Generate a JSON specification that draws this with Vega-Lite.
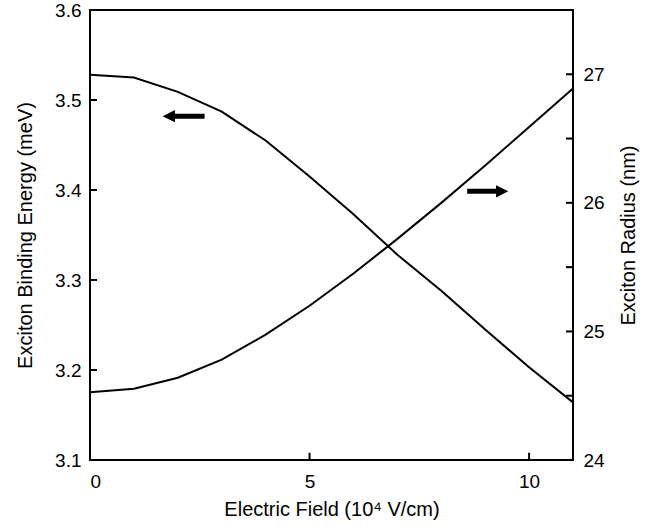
{
  "$schema": "https://vega.github.io/schema/vega-lite/v6.json",
  "width": 483,
  "height": 450,
  "autosize": {"type": "none"},
  "padding": {"left": 90, "top": 10, "right": 90, "bottom": 67},
  "background": "white",
  "config": {
    "font": "Liberation Sans",
    "view": {"stroke": "black", "strokeWidth": 2},
    "axis": {
      "grid": false,
      "ticks": false,
      "domain": false,
      "labelColor": "black",
      "labelFont": "Liberation Sans",
      "labelFontSize": 19,
      "titleFont": "Liberation Sans",
      "titleFontSize": 20,
      "titleFontWeight": "normal",
      "titleColor": "black"
    }
  },
  "datasets": {
    "energy": [
      {"field": 0, "energy": 3.528},
      {"field": 1, "energy": 3.525},
      {"field": 2, "energy": 3.509},
      {"field": 3, "energy": 3.487},
      {"field": 4, "energy": 3.455},
      {"field": 5, "energy": 3.415},
      {"field": 6, "energy": 3.373},
      {"field": 7, "energy": 3.328},
      {"field": 8, "energy": 3.288},
      {"field": 9, "energy": 3.245},
      {"field": 10, "energy": 3.203},
      {"field": 11, "energy": 3.164}
    ],
    "radius": [
      {"field": 0, "radius": 24.526},
      {"field": 1, "radius": 24.555},
      {"field": 2, "radius": 24.64},
      {"field": 3, "radius": 24.78},
      {"field": 4, "radius": 24.975},
      {"field": 5, "radius": 25.2},
      {"field": 6, "radius": 25.45},
      {"field": 7, "radius": 25.72},
      {"field": 8, "radius": 26.0},
      {"field": 9, "radius": 26.29},
      {"field": 10, "radius": 26.59},
      {"field": 11, "radius": 26.89}
    ],
    "leftTicks": [{"v": 3.2}, {"v": 3.3}, {"v": 3.4}, {"v": 3.5}],
    "rightTicks": [{"v": 24.5}, {"v": 25}, {"v": 25.5}, {"v": 26}, {"v": 26.5}, {"v": 27}],
    "bottomTicks": [{"v": 5}, {"v": 10}],
    "leftArrow": [{"x1": 1.8, "x2": 2.61, "head": 1.795, "y": 3.482}],
    "rightArrow": [{"x1": 8.59, "x2": 9.38, "head": 9.386, "y": 26.09}]
  },
  "layer": [
    {
      "layer": [
        {
          "data": {"name": "energy"},
          "mark": {"type": "line", "color": "black", "strokeWidth": 2},
          "encoding": {
            "x": {
              "field": "field", "type": "quantitative",
              "scale": {"domain": [0, 11], "nice": false},
              "axis": {"values": [0, 5, 10], "title": "Electric Field (10⁴ V/cm)", "labelPadding": 12, "titlePadding": 8}
            },
            "y": {
              "field": "energy", "type": "quantitative",
              "scale": {"domain": [3.1, 3.6], "nice": false, "zero": false},
              "axis": {"values": [3.1, 3.2, 3.3, 3.4, 3.5, 3.6], "format": ".1f", "title": "Exciton Binding Energy (meV)", "labelPadding": 9, "titlePadding": 19}
            }
          }
        },
        {
          "data": {"name": "leftTicks"},
          "mark": {"type": "rule", "color": "black", "strokeWidth": 2, "strokeCap": "butt"},
          "encoding": {
            "y": {"field": "v", "type": "quantitative"},
            "x": {"datum": 0, "type": "quantitative"},
            "x2": {"datum": 0.16}
          }
        },
        {
          "data": {"name": "bottomTicks"},
          "mark": {"type": "rule", "color": "black", "strokeWidth": 2, "strokeCap": "butt"},
          "encoding": {
            "x": {"field": "v", "type": "quantitative"},
            "y": {"datum": 3.1, "type": "quantitative"},
            "y2": {"datum": 3.108}
          }
        },
        {
          "data": {"name": "leftArrow"},
          "mark": {"type": "rule", "color": "black", "strokeWidth": 5, "strokeCap": "butt"},
          "encoding": {
            "x": {"field": "x1", "type": "quantitative"},
            "x2": {"field": "x2"},
            "y": {"field": "y", "type": "quantitative"}
          }
        },
        {
          "data": {"name": "leftArrow"},
          "mark": {"type": "point", "shape": "M -1 0 L 1 -1 L 1 1 Z", "filled": true, "color": "black", "opacity": 1, "size": 150},
          "encoding": {
            "x": {"field": "head", "type": "quantitative"},
            "y": {"field": "y", "type": "quantitative"}
          }
        }
      ]
    },
    {
      "layer": [
        {
          "data": {"name": "radius"},
          "mark": {"type": "line", "color": "black", "strokeWidth": 2},
          "encoding": {
            "x": {"field": "field", "type": "quantitative"},
            "y": {
              "field": "radius", "type": "quantitative",
              "scale": {"domain": [24, 27.5], "nice": false, "zero": false},
              "axis": {
                "orient": "right",
                "values": [24, 25, 26, 27],
                "format": "d",
                "title": "Exciton Radius (nm)",
                "titleAngle": -90,
                "titleBaseline": "top",
                "labelPadding": 10,
                "titlePadding": 14
              }
            }
          }
        },
        {
          "data": {"name": "rightTicks"},
          "mark": {"type": "rule", "color": "black", "strokeWidth": 2, "strokeCap": "butt"},
          "encoding": {
            "y": {"field": "v", "type": "quantitative"},
            "x": {"datum": 11, "type": "quantitative"},
            "x2": {"datum": 10.84}
          }
        },
        {
          "data": {"name": "rightArrow"},
          "mark": {"type": "rule", "color": "black", "strokeWidth": 5, "strokeCap": "butt"},
          "encoding": {
            "x": {"field": "x1", "type": "quantitative"},
            "x2": {"field": "x2"},
            "y": {"field": "y", "type": "quantitative"}
          }
        },
        {
          "data": {"name": "rightArrow"},
          "mark": {"type": "point", "shape": "M 1 0 L -1 -1 L -1 1 Z", "filled": true, "color": "black", "opacity": 1, "size": 150},
          "encoding": {
            "x": {"field": "head", "type": "quantitative"},
            "y": {"field": "y", "type": "quantitative"}
          }
        }
      ]
    }
  ],
  "resolve": {"scale": {"y": "independent"}}
}
